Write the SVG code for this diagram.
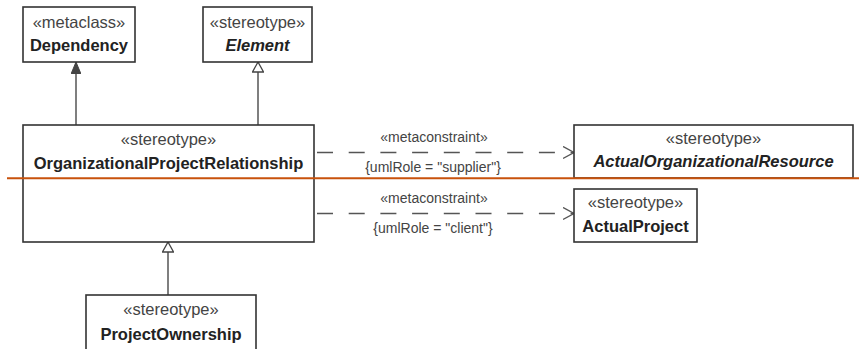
<svg xmlns="http://www.w3.org/2000/svg" width="859" height="349" viewBox="0 0 859 349">
  <style>
    .box { fill: #ffffff; stroke: #333333; stroke-width: 1.6; }
    .st { font-family: "Liberation Sans", Arial, sans-serif; font-size: 16.5px; fill: #444444; text-anchor: middle; }
    .nm { font-family: "Liberation Sans", Arial, sans-serif; font-size: 16.5px; font-weight: bold; fill: #222222; text-anchor: middle; }
    .it { font-style: italic; }
    .edge { fill: none; stroke: #555555; stroke-width: 1.5; }
    .dash { stroke-dasharray: 16 15.7; }
    .lbl { font-family: "Liberation Sans", Arial, sans-serif; font-size: 14px; fill: #444444; text-anchor: middle; }
  </style>
  <defs>
    <marker id="filled" viewBox="0 0 12 10" refX="12" refY="5" markerWidth="12" markerHeight="10" markerUnits="userSpaceOnUse" orient="auto">
      <path d="M0,0 L12,5 L0,10 Z" fill="#444444" stroke="#444444" stroke-width="1"/>
    </marker>
    <marker id="hollow" viewBox="0 0 12 12" refX="11" refY="6" markerWidth="12" markerHeight="12" markerUnits="userSpaceOnUse" orient="auto">
      <path d="M1,0.5 L11,6 L1,11.5 Z" fill="#ffffff" stroke="#444444" stroke-width="1.3"/>
    </marker>
    <marker id="open" viewBox="0 0 12 14" refX="11" refY="7" markerWidth="12" markerHeight="14" markerUnits="userSpaceOnUse" orient="auto">
      <path d="M0,1 L11,7 L0,13" fill="none" stroke="#555555" stroke-width="1.4"/>
    </marker>
  </defs>

  <!-- connectors -->
  <g id="connectors">
    <line class="edge" x1="76" y1="125" x2="76" y2="62" marker-end="url(#filled)"/>
    <line class="edge" x1="258" y1="125" x2="258" y2="62" marker-end="url(#hollow)"/>
    <line class="edge" x1="168" y1="295" x2="168" y2="242" marker-end="url(#hollow)"/>
    <line class="edge dash" x1="317" y1="152.5" x2="574" y2="152.5" marker-end="url(#open)"/>
    <line class="edge dash" x1="317" y1="213.5" x2="574" y2="213.5" marker-end="url(#open)"/>
    <text class="lbl" x="434" y="142">«metaconstraint»</text>
    <text class="lbl" x="433" y="172">{umlRole = "supplier"}</text>
    <text class="lbl" x="434" y="203">«metaconstraint»</text>
    <text class="lbl" x="433" y="233">{umlRole = "client"}</text>
  </g>

  <!-- nodes -->
  <g id="dependency">
    <rect class="box" x="23" y="7" width="112" height="55"/>
    <text class="st" x="79" y="28">«metaclass»</text>
    <text class="nm" x="79" y="51">Dependency</text>
  </g>
  <g id="element">
    <rect class="box" x="203" y="7" width="109" height="55"/>
    <text class="st" x="257.5" y="28">«stereotype»</text>
    <text class="nm it" x="257.5" y="51">Element</text>
  </g>
  <g id="organizational-project-relationship">
    <rect class="box" x="23" y="125" width="291" height="117"/>
    <text class="st" x="168.5" y="145">«stereotype»</text>
    <text class="nm" x="168.5" y="169">OrganizationalProjectRelationship</text>
  </g>
  <g id="actual-organizational-resource">
    <rect class="box" x="574" y="125" width="279" height="53"/>
    <text class="st" x="713.5" y="144">«stereotype»</text>
    <text class="nm it" x="713.5" y="167">ActualOrganizationalResource</text>
  </g>
  <g id="actual-project">
    <rect class="box" x="574" y="189" width="123" height="53"/>
    <text class="st" x="635.5" y="208">«stereotype»</text>
    <text class="nm" x="635.5" y="232">ActualProject</text>
  </g>
  <g id="project-ownership">
    <rect class="box" x="86" y="295" width="170" height="70"/>
    <text class="st" x="171" y="315">«stereotype»</text>
    <text class="nm" x="171" y="340">ProjectOwnership</text>
  </g>

  <!-- horizontal divider -->
  <line x1="7" y1="178.3" x2="859" y2="178.3" stroke="#c8520c" stroke-width="2"/>
</svg>
